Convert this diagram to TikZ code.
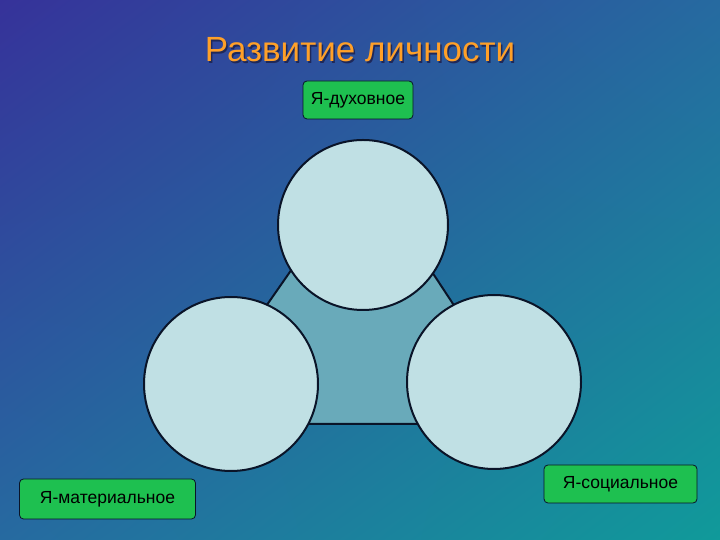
\documentclass[tikz,border=0pt]{standalone}
\usepackage{fontspec}
\setmainfont{Liberation Sans}
\usetikzlibrary{shadings}
\definecolor{bgA}{RGB}{54,50,154}
\definecolor{bgB}{RGB}{38,106,160}
\definecolor{bgC}{RGB}{16,154,154}
\definecolor{titleor}{RGB}{255,160,40}
\definecolor{shadowc}{RGB}{30,40,90}
\definecolor{boxgreen}{RGB}{30,192,80}
\definecolor{circfill}{RGB}{192,224,228}
\definecolor{trifill}{RGB}{105,170,186}
\definecolor{outl}{RGB}{10,20,40}
\tikzset{
  labelbox/.style={draw=outl, line width=0.8pt, fill=boxgreen, rounded corners=4pt,
    font=\fontsize{17.5}{20}\selectfont, text=black, inner sep=0pt},
  bigcircle/.style={circle, draw=outl, line width=2pt, fill=circfill, inner sep=0pt},
}
\begin{document}
\begin{tikzpicture}[x=1pt,y=1pt]
\useasboundingbox (0,0) rectangle (720,540);
\shade[upper left=bgA, upper right=bgB, lower left=bgB, lower right=bgC] (0,0) rectangle (720,540);
% title
\node[anchor=base, text=shadowc, font=\fontsize{35}{40}\selectfont] (titleshadow) at (361.5,476.5) {Развитие личности};
\node[anchor=base, text=titleor, font=\fontsize{35}{40}\selectfont] (title) at (360,478) {Развитие личности};
% triangle
\coordinate (tA) at (363,373);
\coordinate (tB) at (184,116);
\coordinate (tC) at (532,116);
\draw[fill=trifill, draw=outl, line width=2pt, line join=miter] (tA) -- (tB) -- (tC) -- cycle;
% circles
\node[bigcircle, minimum size=170] (ctop) at (363,315) {};
\node[bigcircle, minimum size=174] (cleft) at (231,156) {};
\node[bigcircle, minimum size=174] (cright) at (494,158) {};
% boxes
\node[labelbox, minimum width=110, minimum height=38] (bspirit) at (358,440) {Я-духовное};
\node[labelbox, minimum width=176, minimum height=40] (bmat) at (107.5,41) {Я-материальное};
\node[labelbox, minimum width=153, minimum height=38] (bsoc) at (620.5,56) {Я-социальное};
\end{tikzpicture}
\end{document}
